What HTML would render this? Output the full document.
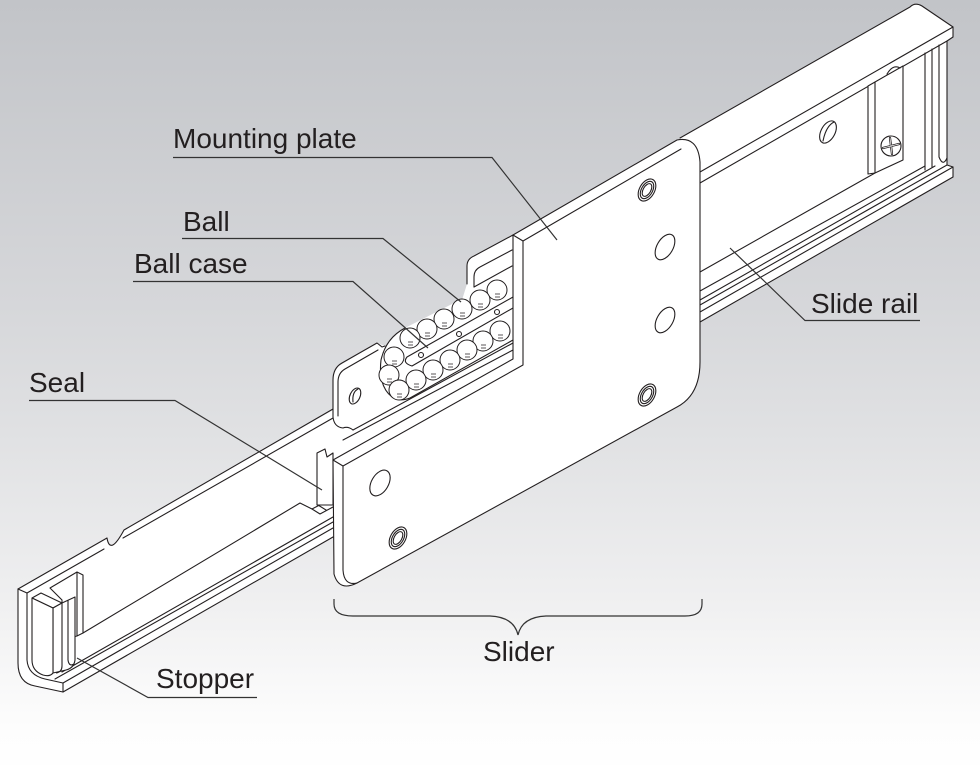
<!DOCTYPE html>
<html><head><meta charset="utf-8">
<style>
html,body{margin:0;padding:0;width:980px;height:765px;overflow:hidden;background:#fff;}
svg{display:block;}
text{font-family:"Liberation Sans",Arial,sans-serif;font-size:28px;fill:#231f20;}
</style></head><body>
<svg width="980" height="765" viewBox="0 0 980 765" xmlns="http://www.w3.org/2000/svg">
<defs>
<linearGradient id="bg" x1="0" y1="0" x2="0" y2="1">
<stop offset="0" stop-color="#c2c4c8"/>
<stop offset="0.4" stop-color="#d6d7da"/>
<stop offset="0.55" stop-color="#dfe0e2"/>
<stop offset="0.78" stop-color="#efeff0"/>
<stop offset="0.95" stop-color="#fdfdfd"/>
<stop offset="1" stop-color="#fefefe"/>
</linearGradient>
</defs>
<rect width="980" height="765" fill="url(#bg)"/>

<!-- ================= SLIDE RAIL ================= -->
<path fill="#fff" stroke="none" d="M910,7 Q915,2 922,6 L953,27 L953,37 L947,41 L947,165 L953,167 L953,177 L700,322 L333,537 L63,692 L35,686 Q18,683 18,663 L18,589 L107,538 Q110,556 124,530 L340,406 L520,300 L680,138 Z"/>
<g fill="none" stroke="#231f20" stroke-width="1.1" stroke-linecap="round" stroke-linejoin="round">
 <path d="M680,138 L910,7 Q915,2 922,6 L953,27 L953,37"/>
 <path d="M953,27 L700,172"/>
 <path d="M953,37 L947,41 L700,183"/>
 <path d="M947,41 L947,165"/>
 <path d="M939,45 L939,157 Q943,167 947,158"/>
 <path d="M932,49 L932,167"/>
 <path d="M925,53 L925,170"/>
 <path d="M700,272 L875,173"/>
 <path d="M700,291 L925,166"/>
 <path d="M700,300 L935,166"/>
 <path d="M700,305 L947,165"/>
 <path d="M947,165 L953,167 L953,177"/>
 <path d="M700,312 L953,167"/>
 <path d="M700,322 L953,177"/>
 <path fill="#fff" d="M868,86 L875,82 L903,66 L903,160 L875,173 L868,174 Z"/>
 <path d="M875,82 L875,173"/>
 <path d="M887,74 Q893,64 900,68"/>
 <circle cx="891" cy="146" r="10" fill="#fff"/>
 <path d="M883,148 L899,144 M890,138 L892,154" stroke-width="2.2"/>
 <path d="M883,148 L899,144 M890,138 L892,154" stroke="#fff" stroke-width="0.7"/>
 <ellipse cx="828" cy="132" rx="7" ry="12" transform="rotate(28 828 132)" fill="#fff"/>
 <path d="M823,141 Q826,126 834,122"/>
 <path d="M18,589 L107,538 Q110,556 124,530 L333,409"/>
 <path d="M27,593 L104,549 M123,538 L333,418"/>
 <path d="M18,589 L27,593"/>
 <path d="M18,589 L18,663 Q18,683 35,686 L63,692 L63,683"/>
 <path d="M27,593 L27,660 Q28,675 45,679 L63,683"/>
 <path d="M83,633 L300,503 L312,509"/>
 <path d="M62,672 L333,517"/>
 <path d="M55,679 L333,522"/>
 <path d="M63,683 L333,528"/>
 <path d="M63,692 L333,537"/>
 <path d="M312,509 L333,498 M312,509 L320,514 L333,507 M318,505 L326,510"/>
</g>

<!-- ================= STOPPER ================= -->
<g fill="#fff" stroke="#231f20" stroke-width="1.1" stroke-linejoin="round">
 <path d="M50,588 L77,572 L83,575 L83,633 L77,636 L62,640 L62,600 Z"/>
 <path fill="none" d="M77,572 L77,636"/>
 <path d="M32,598 L41,593 L62,603 L53,608 Z"/>
 <path d="M53,608 L62,603 L75,597 L75,660 Q74,668 66,670 L53,673 Z"/>
 <path fill="none" d="M62,603 L62,666 Q62,672 56,673"/>
 <path fill="none" d="M68,600 L68,660 Q69,667 74,664"/>
 <path d="M32,598 L53,608 L53,673 Q50,677 43,675 Q32,671 32,660 Z"/>
</g>

<!-- ================= SEAL ================= -->
<path fill="#fff" stroke="#231f20" stroke-width="1.1" stroke-linejoin="round" d="M317,505 L317,453 L325,449 L327,457 L333,453 L333,505 Z"/>

<!-- ================= SLIDER BODY / BALL CASE ================= -->
<path fill="#fff" stroke="none" d="M513,235 L473,256 Q467,259 467,266 L467,284 L462,300 L410,328 L397,338 L385,346 L377,343 L342,364 Q333,368 333,380 L333,417 Q334,428 345,431 L355,433 L513,345 Z"/>
<g fill="none" stroke="#231f20" stroke-width="1.1" stroke-linecap="round" stroke-linejoin="round">
 <path d="M513,235 L474,256 Q467,259 467,266 L467,284"/>
 <path d="M512,250 L480,267 Q474,270 474,277 L474,287"/>
 <path d="M474,287 L512,266"/>
 <path d="M385,346 L382,347 L377,343 L342,363 Q333,368 333,380 L333,417 Q334,427 343,428 Q348,426 353,430"/>
 <path d="M378,350 L345,369 Q338,373 338,382 L338,416"/>
 <path d="M353,430 L513,343"/>
 <path d="M343,440 L513,350"/>
 <ellipse cx="355" cy="396" rx="5" ry="8.5" transform="rotate(25 355 396)" fill="#fff"/>
 <path d="M353,402 Q352,392 358,389"/>
 <path fill="#fff" stroke="none" d="M405,328 Q386,338 381,360 Q378,386 392,397 Q400,402 410,398 L513,340 L513,285 L497,281 Z"/>
 <path d="M405,328 Q386,338 381,360 Q378,386 392,397 Q400,402 410,398 L513,340"/>
 <path fill="#fff" d="M513,297 L407,357 Q402,363 412,366 L513,308"/>
 <circle cx="421" cy="355" r="2.5" fill="#fff"/>
 <circle cx="459" cy="334" r="2.5" fill="#fff"/>
 <circle cx="497" cy="312" r="2.5" fill="#fff"/>
</g>
<g fill="#fff" stroke="#231f20" stroke-width="1">
 <circle cx="497" cy="290" r="10"/>
 <circle cx="480" cy="300" r="10"/>
 <circle cx="462" cy="309" r="10"/>
 <circle cx="444" cy="319" r="10"/>
 <circle cx="427" cy="329" r="10"/>
 <circle cx="410" cy="338" r="10"/>
 <circle cx="500" cy="331" r="10"/>
 <circle cx="483" cy="341" r="10"/>
 <circle cx="467" cy="350" r="10"/>
 <circle cx="450" cy="360" r="10"/>
 <circle cx="433" cy="370" r="10"/>
 <circle cx="394" cy="357" r="10"/>
 <circle cx="389" cy="375" r="10"/>
 <circle cx="416" cy="380" r="10"/>
 <circle cx="399" cy="390" r="10"/>
</g>
<g fill="none" stroke="#231f20" stroke-width="0.8">
 <path d="M495,294h5M495,297h5 M478,304h5M478,307h5 M460,313h5M460,316h5 M442,323h5M442,326h5 M425,333h5M425,336h5 M408,342h5M408,345h5 M498,335h5M498,338h5 M481,345h5M481,348h5 M465,354h5M465,357h5 M448,364h5M448,367h5 M431,374h5M431,377h5 M392,361h5M392,364h5 M387,379h5M387,382h5 M414,384h5M414,387h5 M397,394h5M397,397h5"/>
</g>

<!-- ================= MOUNTING PLATE ================= -->
<g fill="#fff" stroke="#231f20" stroke-width="1.1" stroke-linejoin="round" stroke-linecap="round">
 <path d="M513,235 L677,140 Q698,136 700,162 L700,362 Q700,395 677,407 L357,583 Q339,592 334,574 L333,460 L513,359 Z"/>
 <path fill="none" d="M513,235 L523,241 L681,149"/>
 <path fill="none" d="M523,241 L523,365 L343,466"/>
 <path fill="none" d="M333,460 L343,466 L343,570 Q344,586 357,583"/>
 <ellipse cx="647" cy="190" rx="7.5" ry="12" transform="rotate(30 647 190)"/>
 <ellipse cx="647" cy="190" rx="5.5" ry="9.5" transform="rotate(30 647 190)" fill="none"/>
 <ellipse cx="647" cy="190" rx="3.8" ry="7" transform="rotate(30 647 190)" fill="none"/>
 <ellipse cx="665" cy="247" rx="8" ry="14" transform="rotate(30 665 247)"/>
 <ellipse cx="665" cy="320" rx="8" ry="14" transform="rotate(30 665 320)"/>
 <ellipse cx="647" cy="395" rx="7.5" ry="12" transform="rotate(30 647 395)"/>
 <ellipse cx="647" cy="395" rx="5.5" ry="9.5" transform="rotate(30 647 395)" fill="none"/>
 <ellipse cx="647" cy="395" rx="3.8" ry="7" transform="rotate(30 647 395)" fill="none"/>
 <ellipse cx="380" cy="483" rx="8.5" ry="14" transform="rotate(30 380 483)"/>
 <ellipse cx="398" cy="538" rx="7.5" ry="12" transform="rotate(30 398 538)"/>
 <ellipse cx="398" cy="538" rx="5.5" ry="9.5" transform="rotate(30 398 538)" fill="none"/>
 <ellipse cx="398" cy="538" rx="3.8" ry="7" transform="rotate(30 398 538)" fill="none"/>
</g>

<!-- ================= LABELS ================= -->
<g fill="none" stroke="#333" stroke-width="1.2">
 <path d="M173,157.5 H492 L557,240"/>
 <path d="M182,238.5 H383 L461,302"/>
 <path d="M133,281.5 H353 L428,348"/>
 <path d="M29,400.5 H175 L322,490"/>
 <path d="M920,320.5 H805 L730,248"/>
 <path d="M257,697.5 H148 L77,658"/>
 <path d="M334,599 L334,604 Q334,616 353,616 L490,616 Q514,617 518,635 Q522,617 546,616 L685,616 Q702,616 702,604 L702,599"/>
</g>
<text x="173" y="148">Mounting plate</text>
<text x="183" y="231">Ball</text>
<text x="134" y="273">Ball case</text>
<text x="29" y="392">Seal</text>
<text x="811" y="313">Slide rail</text>
<text x="156" y="688">Stopper</text>
<text x="483" y="661">Slider</text>
</svg>
</body></html>
